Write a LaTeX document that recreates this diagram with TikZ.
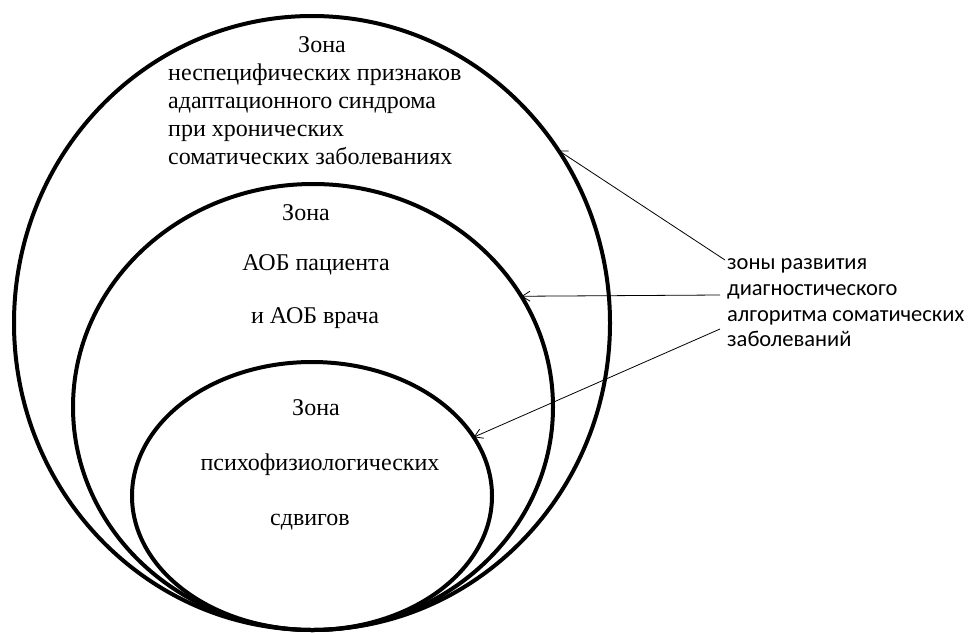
\documentclass[tikz,border=0pt]{standalone}
\usepackage{fontspec}
\setmainfont{Liberation Serif}
\newfontfamily\sansf{Carlito}
\usetikzlibrary{shapes.geometric,arrows.meta}
\begin{document}
\begin{tikzpicture}[x=1pt,y=-1pt,
  zone/.style={ellipse,draw,line width=4pt,inner sep=0pt,outer sep=0pt},
  ser/.style={font=\fontsize{24}{28}\selectfont,inner sep=0pt,text height=16pt,text depth=5pt},
  san/.style={font=\sansf\fontsize{22.5}{26}\selectfont,inner sep=0pt,anchor=west,text height=15pt,text depth=4pt},
  pointer/.style={-{Straight Barb[length=8pt,width=10pt]},line width=0.8pt}]
\useasboundingbox (0,0) rectangle (971,632);
\fill[white] (0,0) rectangle (971,632);
\node[zone,minimum width=596pt,minimum height=614pt] (outer) at (312,323) {};
\node[zone,minimum width=480pt,minimum height=446pt] (middle) at (313,407) {};
\node[zone,minimum width=360pt,minimum height=268pt] (inner) at (312,496) {};
% outer zone text
\node[ser] (o1) at (322,47) {Зона};
\node[ser,anchor=west] (o2) at (168,75) {неспецифических признаков};
\node[ser,anchor=west] (o3) at (168,103) {адаптационного синдрома};
\node[ser,anchor=west] (o4) at (168,131) {при хронических};
\node[ser,anchor=west] (o5) at (168,159) {соматических заболеваниях};
% middle zone text
\node[ser] (m1) at (306,215) {Зона};
\node[ser] (m2) at (316,265) {АОБ пациента};
\node[ser] (m3) at (315,318) {и АОБ врача};
% inner zone text
\node[ser] (i1) at (316,410) {Зона};
\node[ser] (i2) at (320,465) {психофизиологических};
\node[ser] (i3) at (310,520) {сдвигов};
% legend
\node[san] (l1) at (727,264) {зоны развития};
\node[san] (l2) at (727,290) {диагностического};
\node[san] (l3) at (727,316) {алгоритма соматических};
\node[san] (l4) at (727,341) {заболеваний};
\coordinate (t1) at (725,260);
\coordinate (t2) at (720,295);
\coordinate (t3) at (720,329);
\draw[pointer] (t1) -- (outer.35.5);
\draw[pointer] (t2) -- (middle.28.35);
\draw[pointer] (t3) -- (inner.20.3);
\end{tikzpicture}
\end{document}
